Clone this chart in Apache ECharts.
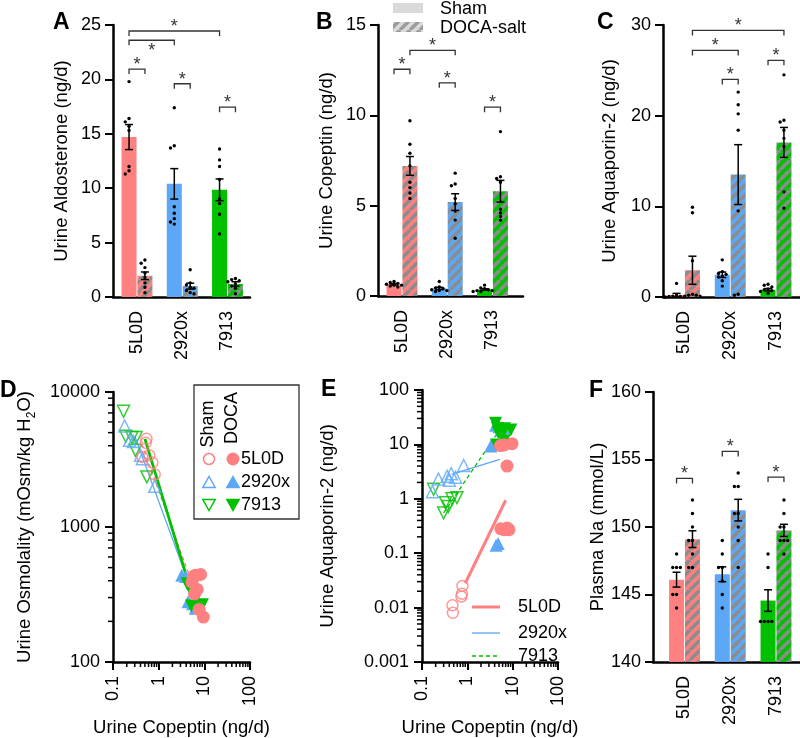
<!DOCTYPE html>
<html><head><meta charset="utf-8">
<script src="https://cdn.jsdelivr.net/npm/echarts@6/dist/echarts.min.js"></script>
<style>html,body{margin:0;padding:0;background:#fff}#c{width:800px;height:738px}</style>
</head><body><div id="c"></div><script>
// ---------------- DATA ----------------
const strains = ['5L0D', '2920x', '7913'];

// A: Urine Aldosterone (ng/d)
const aldoShamMean = [14.7, 10.4, 9.85];
const aldoShamSem  = [1.15, 1.4, 1.0];
const aldoDocaMean = [1.95, 1.0, 1.2];
const aldoDocaSem  = [0.35, 0.27, 0.2];
const aldoShamDots = [[19.8,16.4,16.1,15.7,15.3,12.0,11.6,11.3],[17.4,13.9,13.7,8.3,7.7,7.2,6.9,6.7],[13.6,12.6,12.0,10.8,9.0,8.6,7.6,5.8]];
const aldoDocaDots = [[3.4,3.1,2.7,2.2,1.8,1.3,0.9,0.4],[2.5,1.3,1.1,0.9,0.8,0.6,0.4,0.3],[1.7,1.6,1.5,1.4,1.2,1.0,0.8,0.3]];
const aldoBrackets = [[0,-1,2,-1,24.45,0],[0,-1,1,-1,23.6,1],[0,-1,0,1,20.95,0],[1,-1,1,1,19.6,0],[2,-1,2,1,17.45,0]];

// B: Urine Copeptin (ng/d)
const copShamMean = [0.65, 0.42, 0.36];
const copShamSem  = [0.04, 0.06, 0.04];
const copDocaMean = [7.2, 5.2, 5.8];
const copDocaSem  = [0.52, 0.46, 0.6];
const copShamDots = [[0.8,0.75,0.7,0.65,0.6,0.6,0.55,0.5],[0.8,0.5,0.45,0.4,0.35,0.3,0.3,0.25],[0.6,0.45,0.4,0.35,0.3,0.3,0.25,0.25]];
const copDocaDots = [[9.7,8.4,7.9,7.2,6.3,6.0,5.7,5.4],[6.8,6.2,6.1,5.4,5.1,4.7,4.2,3.2],[9.1,6.6,6.5,6.3,4.8,4.6,4.4,4.2]];
const copBrackets = [[0,1,1,1,13.6,0],[0,-1,0,1,12.55,0],[1,-1,1,1,11.8,0],[2,-1,2,1,10.45,0]];

// C: Urine Aquaporin-2 (ng/d)
const aqpShamMean = [0.2, 2.45, 0.8];
const aqpShamSem  = [0.2, 0.3, 0.13];
const aqpDocaMean = [2.95, 13.5, 17.05];
const aqpDocaSem  = [1.55, 3.3, 1.65];
const aqpShamDots = [[1.5,0.2,0.1,0.05,0.05,0,0],[4.1,2.8,2.6,2.5,2.3,2.2,1.8,1.2],[1.4,1.3,1.1,0.9,0.8,0.7,0.6,0.4]];
const aqpDocaDots = [[9.9,9.3,4.0,0.3,0.2,0.2,0.1,0.1],[22.6,21.2,20.2,18.4,9.5,0.3,0.2],[24.5,19.5,19.3,18.4,17.5,16.6,11.6,9.8]];
const aqpBrackets = [[0,1,2,1,29.4,0],[0,1,1,1,27.2,0],[1,-1,1,1,24.0,0],[2,-1,2,1,26.1,0]];

// F: Plasma Na (mmol/L)
const naShamMean = [146.1, 146.5, 144.55];
const naShamSem  = [0.55, 0.55, 0.8];
const naDocaMean = [149.1, 151.25, 149.75];
const naDocaSem  = [0.62, 0.8, 0.45];
const naShamDots = [[148,147,147,147,145,145,144],[149,148,147,147,146,145,144],[148,147,143,143,143,143]];
const naDocaDots = [[152,151,150,149,149,148,147,147],[154,153,153,151,151,150,149,147],[152,151,150,150,149,149,149,148]];
const naBrackets = [[0,-1,0,1,153.6,0],[1,-1,1,1,155.6,0],[2,-1,2,1,153.7,0]];

// D: Urine Copeptin (x) vs Urine Osmolality (y)
const dCopSham = [[0.54,0.52,0.62,0.44,0.73,0.82],[0.18,0.23,0.28,0.4,0.44,0.82],[0.17,0.19,0.26,0.32,0.31,0.55]];
const dOsmSham = [[4500,4200,3400,3300,3000,2450],[5600,4400,4300,3400,3200,2000],[7200,4700,4600,4600,3700,2350]];
const dCopDoca = [[5.7,6.4,8.3,5.4,7.0,6.1,7.7,9.5],[3.2,3.9,4.4,5.5,6.3,6.8],[4.2,4.6,5.2,6.3,9.1,6.6]];
const dOsmDoca = [[430,440,445,390,345,320,245,215],[440,430,280,270,250,300],[380,360,260,330,265,250]];
const dFit = [[[0.43,4100],[9.5,225]],[[0.3,4700],[6.8,265]],[[0.5,4500],[6.0,280]]];

// E: Urine Copeptin (x) vs Urine Aquaporin-2 (y)
const eCopSham = [[0.47,0.48,0.74,0.76,0.78],[0.17,0.23,0.36,0.44,0.40,0.55,0.83],[0.18,0.30,0.33,0.38,0.46,0.59]];
const eAqpSham = [[0.011,0.008,0.016,0.018,0.025],[1.35,2.3,2.6,2.9,2.2,2.5,4.1],[1.5,0.55,0.85,0.72,1.0,1.05]];
const eCopDoca = [[5.4,6.5,9.7,7.5,5.5,6.5,7.6,8.3],[3.3,4.2,5.0,6.2,5.5,4.8,4.3],[4.2,4.6,6.6,9.1,6.3,4.8,6.5,4.4]];
const eAqpDoca = [[9.5,9.8,10.3,4.0,0.28,0.27,0.29,0.27],[9.3,22.5,21.2,20.1,18.4,0.15,0.14],[24.5,19.5,19.3,18.4,17.5,16.6,11.6,9.8]];
const eFit = [[[0.9,0.028],[7.0,0.94]],[[0.45,2.8],[5.2,5.3]],[[0.3,0.55],[5.5,20]]];

// ---------------- STYLE ----------------
const FONT = "'Liberation Sans', Arial, sans-serif";
const COLORS = ['#FF8080', '#5CA8F7', '#00C000'];
const HALF = 7.95, DOTDX = 3.8;

function stripe(bg, fg) {
  const c = document.createElement('canvas'); c.width = 10; c.height = 10;
  const g = c.getContext('2d'); g.fillStyle = bg; g.fillRect(0, 0, 10, 10);
  g.strokeStyle = fg; g.lineWidth = 3.6; g.beginPath();
  [-10, 0, 10].forEach(k => { g.moveTo(k, 10); g.lineTo(k + 10, 0); });
  g.stroke(); return c;
}
const PATTERNS = COLORS.map(c => ({ type: 'pattern', image: stripe(c, '#8c8c8c'), repeat: 'repeat' }));
const LEG_PATTERN = { type: 'pattern', image: stripe('#dadada', '#9c9c9c'), repeat: 'repeat' };

function swarm(vals, ppu) {
  const placed = [], out = [];
  const order = [0, -1, 1, -2, 2, -3, 3];
  vals.slice().sort((a, b) => b - a).forEach(v => {
    for (const s of order) {
      const ok = placed.every(p => { const dx = (p.s - s) * DOTDX, dy = (p.v - v) * ppu; return dx * dx + dy * dy >= 13; });
      if (ok) { placed.push({ v, s }); out.push([v, s]); break; }
    }
  });
  return out;
}

const lineSt = { stroke: '#000', lineWidth: 1.5 };
function dotsRender(params, api) {
  const p = api.coord([api.value(0), api.value(1)]);
  const x = p[0] + api.value(2) * HALF + api.value(3) * DOTDX;
  return { type: 'circle', shape: { cx: x, cy: p[1], r: 1.7 }, style: { fill: '#000' } };
}
function errRenderer(ymin) {
  return function (params, api) {
    const c = api.value(0), m = api.value(1), s = api.value(2), side = api.value(3);
    const t = api.coord([c, m + s]), b = api.coord([c, Math.max(m - s, ymin)]);
    const x = t[0] + side * HALF;
    return { type: 'group', children: [
      { type: 'line', shape: { x1: x, y1: t[1], x2: x, y2: b[1] }, style: lineSt },
      { type: 'line', shape: { x1: x - 4, y1: t[1], x2: x + 4, y2: t[1] }, style: lineSt },
      { type: 'line', shape: { x1: x - 4, y1: b[1], x2: x + 4, y2: b[1] }, style: lineSt }
    ] };
  };
}
function brRender(params, api) {
  const a = api.coord([api.value(0), api.value(4)]), b = api.coord([api.value(2), api.value(4)]);
  const x1 = a[0] + api.value(1) * HALF, x2 = b[0] + api.value(3) * HALF, y = a[1];
  const below = api.value(5) === 1;
  return { type: 'group', children: [
    { type: 'polyline', shape: { points: [[x1, y + 5], [x1, y], [x2, y], [x2, y + 5]] }, style: { stroke: '#333', lineWidth: 1.3, fill: null } },
    { type: 'text', style: { text: '*', x: (x1 + x2) / 2, y: below ? y + 11 : y - 4, align: 'center', verticalAlign: 'middle', fontSize: 18, fontFamily: FONT, fill: '#333' } }
  ] };
}

function barPanel(g, sm, ss, dm, ds, sd, dd, br, ymin, ymax, gridH) {
  const ppu = gridH / (ymax - ymin);
  const out = [];
  out.push({ type: 'bar', xAxisIndex: g, yAxisIndex: g, barWidth: 15, barGap: '6%', clip: true, silent: true,
    data: sm.map((v, i) => ({ value: [i, v], itemStyle: { color: COLORS[i] } })) });
  out.push({ type: 'bar', xAxisIndex: g, yAxisIndex: g, barWidth: 15, barGap: '6%', clip: true, silent: true,
    data: dm.map((v, i) => ({ value: [i, v], itemStyle: { color: PATTERNS[i] } })) });
  const dots = [];
  [sd, dd].forEach((arr, k) => arr.forEach((vals, i) => swarm(vals, ppu).forEach(([v, s]) => dots.push([i, v, k ? 1 : -1, s]))));
  out.push({ type: 'custom', xAxisIndex: g, yAxisIndex: g, renderItem: dotsRender, data: dots, encode: { x: 0, y: 1 }, z: 3, silent: true });
  const errs = [];
  sm.forEach((v, i) => errs.push([i, v, ss[i], -1]));
  dm.forEach((v, i) => errs.push([i, v, ds[i], 1]));
  out.push({ type: 'custom', xAxisIndex: g, yAxisIndex: g, renderItem: errRenderer(ymin), data: errs, encode: { x: 0, y: 1 }, z: 4, silent: true });
  out.push({ type: 'custom', xAxisIndex: g, yAxisIndex: g, renderItem: brRender, data: br, encode: { x: 0, y: 4 }, z: 4, silent: true });
  return out;
}

function minorVals(lo, hi) {
  const out = [];
  for (let e = Math.round(Math.log10(lo)); e < Math.round(Math.log10(hi)); e++)
    for (let k = 2; k <= 9; k++) out.push(+(k * Math.pow(10, e)).toPrecision(6));
  return out;
}
function minorTickSeries(g, xmin, xmax, ymin, ymax) {
  const data = [];
  minorVals(ymin, ymax).forEach(v => data.push([xmin, v, 0]));
  minorVals(xmin, xmax).forEach(v => data.push([v, ymin, 1]));
  return { type: 'custom', xAxisIndex: g, yAxisIndex: g, silent: true, z: 5, data, encode: { x: 0, y: 1 },
    renderItem: (params, api) => {
      const p = api.coord([api.value(0), api.value(1)]);
      const horiz = api.value(2) === 0;
      return { type: 'line', shape: horiz ? { x1: p[0] - 5, y1: p[1], x2: p[0], y2: p[1] } : { x1: p[0], y1: p[1], x2: p[0], y2: p[1] + 5 },
        style: { stroke: '#000', lineWidth: 1.5 } };
    } };
}

const markerSym = ['circle', 'triangle', 'triangle'];
const markerRot = [0, 0, 180];
function scatterPanel(g, xsS, ysS, xsD, ysD, fits, fitStyles) {
  const out = [];
  fits.forEach((f, i) => out.push({ type: 'line', xAxisIndex: g, yAxisIndex: g, data: f, showSymbol: false, symbol: 'none', silent: true, z: 2,
    lineStyle: Object.assign({ color: COLORS[i] }, fitStyles[i]) }));
  [2, 1, 0].forEach(i => out.push({ type: 'scatter', xAxisIndex: g, yAxisIndex: g, silent: true, z: 3,
    symbol: markerSym[i], symbolRotate: markerRot[i], symbolSize: i === 0 ? 11 : 12,
    itemStyle: { color: 'rgba(255,255,255,0)', borderColor: COLORS[i], borderWidth: 1.5 },
    data: xsS[i].map((x, k) => [x, ysS[i][k]]) }));
  [1, 2, 0].forEach(i => out.push({ type: 'scatter', xAxisIndex: g, yAxisIndex: g, silent: true, z: 3,
    symbol: markerSym[i], symbolRotate: markerRot[i], symbolSize: 13,
    itemStyle: { color: COLORS[i], opacity: 1 },
    data: xsD[i].map((x, k) => [x, ysD[i][k]]) }));
  return out;
}

// ---------------- AXES ----------------
const txt = { color: '#000', fontFamily: FONT };
const axLine = { show: true, onZero: false, lineStyle: { color: '#000', width: 2.5 } };
function barX(g, min, max) {
  return { gridIndex: g, type: 'value', min, max, splitLine: { show: false }, axisTick: { show: false }, axisLine: axLine,
    axisLabel: Object.assign({ customValues: [0, 1, 2], formatter: v => (Number.isInteger(v) && strains[v]) || '', rotate: 90, margin: 14, fontSize: 18 }, txt) };
}
function valY(g, min, max, interval, name, gap) {
  return { gridIndex: g, type: 'value', min, max, interval, name, nameLocation: 'middle', nameGap: gap,
    nameTextStyle: Object.assign({ fontSize: 18.5 }, txt), splitLine: { show: false }, axisLine: axLine,
    axisTick: { show: true, length: 8, lineStyle: { width: 2, color: '#000' } },
    axisLabel: Object.assign({ margin: 12, fontSize: 18 }, txt) };
}
const fmtLog = v => String(+Number(v).toPrecision(6));
function logX(g) {
  return { gridIndex: g, type: 'log', logBase: 10, min: 0.1, max: 100, name: 'Urine Copeptin (ng/d)', nameLocation: 'middle', nameGap: 56,
    nameTextStyle: Object.assign({ fontSize: 18.5 }, txt), splitLine: { show: false }, axisLine: axLine,
    axisTick: { show: true, length: 8, lineStyle: { width: 2, color: '#000' } },
    axisLabel: Object.assign({ rotate: 90, margin: 14, fontSize: 18, formatter: fmtLog }, txt) };
}
function logY(g, min, max, name, gap, rich) {
  return { gridIndex: g, type: 'log', logBase: 10, min, max, name, nameLocation: 'middle', nameGap: gap,
    nameTextStyle: Object.assign({ fontSize: 18.5, rich: rich || {} }, txt), splitLine: { show: false }, axisLine: axLine,
    axisTick: { show: true, length: 8, lineStyle: { width: 2, color: '#000' } },
    axisLabel: Object.assign({ margin: 13, fontSize: 18, formatter: fmtLog }, txt) };
}

const grids = [
  { left: 113, top: 25, width: 137, height: 272 },
  { left: 378, top: 25, width: 145, height: 271 },
  { left: 663, top: 25, width: 137, height: 272 },
  { left: 113, top: 392, width: 137, height: 270 },
  { left: 422, top: 390, width: 136, height: 272 },
  { left: 653, top: 392, width: 147, height: 270 }
];

const xAxis = [
  barX(0, -0.53, 2.497),
  barX(1, -0.53, 2.674),
  barX(2, -0.47, 2.525),
  logX(3),
  logX(4),
  barX(5, -0.689, 2.525)
];
const osmRich = {
  n: { fontSize: 18.5, lineHeight: 26, verticalAlign: 'middle', fontFamily: FONT, color: '#000' },
  sub: { fontSize: 12, lineHeight: 12, verticalAlign: 'bottom', fontFamily: FONT, color: '#000' }
};
const yAxis = [
  valY(0, 0, 25, 5, 'Urine Aldosterone (ng/d)', 42),
  valY(1, 0, 15, 5, 'Urine Copeptin (ng/d)', 42),
  valY(2, 0, 30, 10, 'Urine Aquaporin-2 (ng/d)', 44),
  logY(3, 100, 10000, '{n|Urine Osmolality (mOsm/kg H}{sub|2}{n|O)}', 75, osmRich),
  logY(4, 0.001, 100, 'Urine Aquaporin-2 (ng/d)', 85),
  valY(5, 140, 160, 5, 'Plasma Na (mmol/L)', 44)
];

let series = [];
series = series.concat(barPanel(0, aldoShamMean, aldoShamSem, aldoDocaMean, aldoDocaSem, aldoShamDots, aldoDocaDots, aldoBrackets, 0, 25, 272));
series = series.concat(barPanel(1, copShamMean, copShamSem, copDocaMean, copDocaSem, copShamDots, copDocaDots, copBrackets, 0, 15, 271));
series = series.concat(barPanel(2, aqpShamMean, aqpShamSem, aqpDocaMean, aqpDocaSem, aqpShamDots, aqpDocaDots, aqpBrackets, 0, 30, 272));
series = series.concat(barPanel(5, naShamMean, naShamSem, naDocaMean, naDocaSem, naShamDots, naDocaDots, naBrackets, 140, 160, 270));
series = series.concat(scatterPanel(3, dCopSham, dOsmSham, dCopDoca, dOsmDoca, dFit,
  [{ width: 1.3, type: [4, 3] }, { width: 1.3 }, { width: 2.8 }]));
series = series.concat(scatterPanel(4, eCopSham, eAqpSham, eCopDoca, eAqpDoca, eFit,
  [{ width: 3 }, { width: 1.3 }, { width: 1.3, type: [4, 3] }]));
series.push(minorTickSeries(3, 0.1, 100, 100, 10000));
series.push(minorTickSeries(4, 0.1, 100, 0.001, 100));

// ---------------- GRAPHICS (panel letters, legends) ----------------
const letter = (t, x, y) => ({ type: 'text', x, y, silent: true, style: { text: t, fontSize: 23, fontWeight: 'bold', fontFamily: FONT, fill: '#000' } });
const gtext = (t, x, y, extra) => ({ type: 'text', x, y, silent: true, style: Object.assign({ text: t, fontSize: 18, fontFamily: FONT, fill: '#000', verticalAlign: 'middle' }, extra || {}) });
function tri(cx, cy, down, fill, stroke) {
  const h = 5.5, w = 6.2;
  const pts = down ? [[cx, cy + h], [cx + w, cy - h], [cx - w, cy - h]] : [[cx, cy - h], [cx + w, cy + h], [cx - w, cy + h]];
  return { type: 'polygon', silent: true, shape: { points: pts }, style: { fill, stroke, lineWidth: 1.5 } };
}
const legRows = [459, 482, 505];
const graphic = [
  letter('A', 53, 11), letter('B', 316, 11), letter('C', 597, 11),
  letter('D', 0, 379), letter('E', 321, 378), letter('F', 589, 379),
  // B legend
  { type: 'rect', silent: true, shape: { x: 393, y: 3, width: 30, height: 10 }, style: { fill: '#dadada' } },
  { type: 'rect', silent: true, shape: { x: 393, y: 22, width: 30, height: 10 }, style: { fill: LEG_PATTERN } },
  gtext('Sham', 440, 9), gtext('DOCA-salt', 440, 28),
  // D legend box
  { type: 'rect', silent: true, shape: { x: 194, y: 385, width: 105, height: 134 }, style: { fill: '#fff', stroke: '#333', lineWidth: 1.3 }, z: 10 },
  { type: 'text', silent: true, x: 208, y: 424, rotation: Math.PI / 2, z: 11,
    style: { text: 'Sham', fontSize: 18, fontFamily: FONT, fill: '#000', align: 'center', verticalAlign: 'middle' } },
  { type: 'text', silent: true, x: 232, y: 418, rotation: Math.PI / 2, z: 11,
    style: { text: 'DOCA', fontSize: 18, fontFamily: FONT, fill: '#000', align: 'center', verticalAlign: 'middle' } },
  Object.assign({ type: 'circle', silent: true, shape: { cx: 209, cy: legRows[0], r: 5.5 }, style: { fill: '#fff', stroke: COLORS[0], lineWidth: 1.5 } }, { z: 11 }),
  Object.assign({ type: 'circle', silent: true, shape: { cx: 233, cy: legRows[0], r: 6.5 }, style: { fill: COLORS[0] } }, { z: 11 }),
  Object.assign(tri(209, legRows[1], false, '#fff', COLORS[1]), { z: 11 }),
  Object.assign(tri(233, legRows[1], false, COLORS[1], COLORS[1]), { z: 11 }),
  Object.assign(tri(209, legRows[2], true, '#fff', COLORS[2]), { z: 11 }),
  Object.assign(tri(233, legRows[2], true, COLORS[2], COLORS[2]), { z: 11 }),
  Object.assign(gtext(strains[0], 241, legRows[0]), { z: 11 }),
  Object.assign(gtext(strains[1], 241, legRows[1]), { z: 11 }),
  Object.assign(gtext(strains[2], 241, legRows[2]), { z: 11 }),
  // E legend
  { type: 'line', silent: true, shape: { x1: 472, y1: 607, x2: 500, y2: 607 }, style: { stroke: COLORS[0], lineWidth: 3 } },
  { type: 'line', silent: true, shape: { x1: 472, y1: 633, x2: 500, y2: 633 }, style: { stroke: COLORS[1], lineWidth: 1.3 } },
  { type: 'line', silent: true, shape: { x1: 472, y1: 656, x2: 500, y2: 656 }, style: { stroke: COLORS[2], lineWidth: 1.3, lineDash: [4, 3] } },
  gtext(strains[0], 518, 607), gtext(strains[1], 518, 633), gtext(strains[2], 518, 656)
];

const chart = echarts.init(document.getElementById('c'), null, { renderer: 'canvas' });
chart.setOption({ animation: false, backgroundColor: '#fff', grid: grids, xAxis, yAxis, series, graphic });
</script></body></html>
